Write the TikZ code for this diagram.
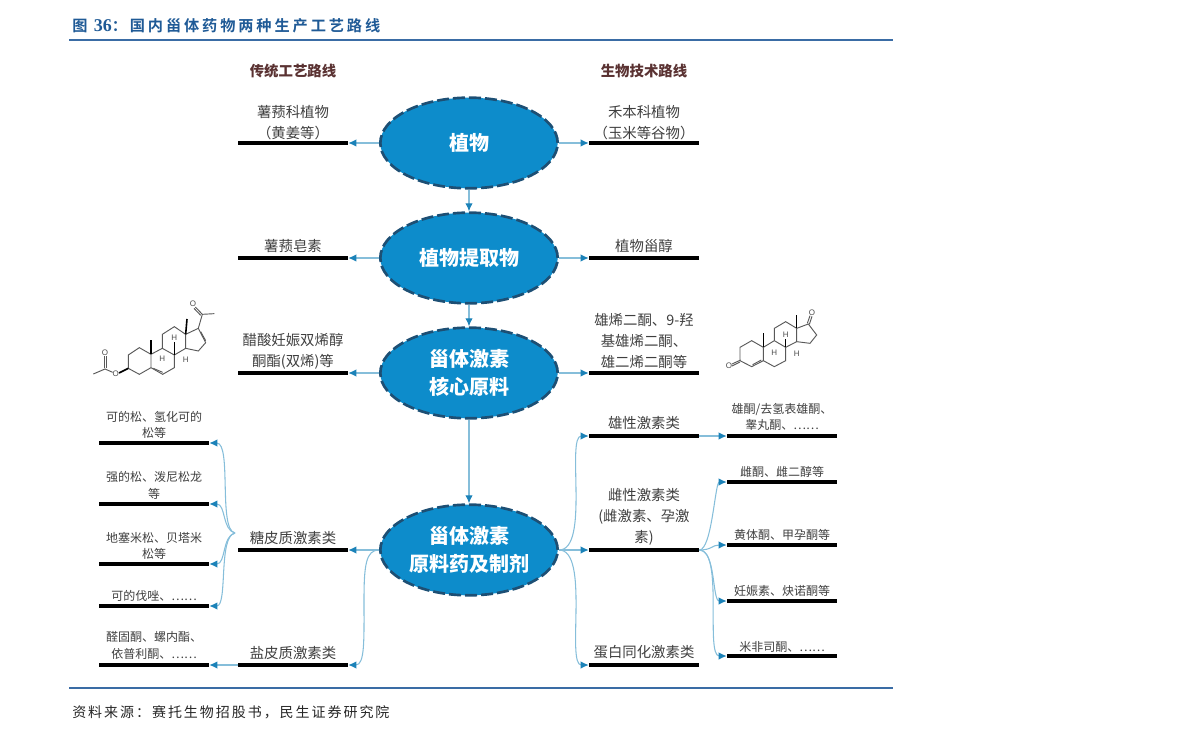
\documentclass[tikz,border=0pt]{standalone}
\usepackage{fontspec}
\setmainfont{Noto Sans CJK SC}
\newfontfamily\titlefont[LetterSpace=19,BoldFont={Noto Sans CJK SC Bold}]{Noto Sans CJK SC}
\newfontfamily\sourcefont[LetterSpace=14]{Noto Sans CJK SC}
\newfontfamily\numfont{Liberation Serif}
\newfontfamily\chemfont{Liberation Sans}
\usetikzlibrary{shapes.geometric,arrows.meta}
\definecolor{headblue}{HTML}{1F5A96}
\definecolor{ruleblue}{HTML}{3A6CA5}
\definecolor{lineblue}{HTML}{86BEDA}
\definecolor{tipblue}{HTML}{1B82B8}
\definecolor{ovalblue}{HTML}{0D8CCB}
\definecolor{ovaledge}{HTML}{1D4F74}
\definecolor{bodygray}{HTML}{3F3F3F}
\definecolor{routebrown}{HTML}{5A3232}
\tikzset{
  oval/.style={draw=ovaledge, fill=ovalblue, ellipse, line width=2pt, dash pattern=on 9pt off 3pt, minimum width=133pt, minimum height=68pt, inner sep=0pt, text=white, font=\fontsize{15}{21}\selectfont\bfseries, align=center},
  barmain/.style={fill=black, rectangle, minimum width=82.5pt, minimum height=2.6pt, inner sep=0pt},
  txtmain/.style={text=bodygray, font=\fontsize{10.8}{15.6}\selectfont, align=center, inner sep=0pt},
  txtsub/.style={text=bodygray, font=\fontsize{9}{12.3}\selectfont, align=center, inner sep=0pt},
  route/.style={text=routebrown, font=\fontsize{10.8}{14}\selectfont\bfseries, inner sep=0pt},
  conn/.style={->, draw=lineblue, line width=.8pt},
  bond/.style={draw=black!65, line width=.7pt},
  wedge/.style={draw=black, line width=1.2pt},
  atom/.style={text=black!70, font=\chemfont\fontsize{6}{6}\selectfont, inner sep=0pt}
}
\begin{document}
\begin{tikzpicture}[x=.75pt, y=-.75pt, >={Latex[length=6pt,width=5.5pt,color=tipblue]}]
\useasboundingbox (0,0) rectangle (1191,741);

% header and footer
\node[anchor=west, inner sep=0pt, text=headblue, font=\fontsize{11.4}{14}\selectfont\bfseries] (title) at (72,26) {\titlefont\bfseries 图 {\numfont\fontsize{13.5}{14}\selectfont 36}：国内甾体药物两种生产工艺路线};
\coordinate (rule1a) at (69,40);
\coordinate (rule1b) at (893,40);
\draw[ruleblue, line width=1.5pt] (rule1a) -- (rule1b);
\coordinate (rule2a) at (69,688);
\coordinate (rule2b) at (893,688);
\draw[ruleblue, line width=1.5pt] (rule2a) -- (rule2b);
\node[anchor=west, inner sep=0pt, text=black!85, font=\fontsize{10.5}{14}\selectfont] (source) at (72,712) {\sourcefont 资料来源：赛托生物招股书，民生证券研究院};

\node[route] (lefthead) at (293,71) {传统工艺路线};
\node[route] (righthead) at (644,71) {生物技术路线};

% central ovals
\node[oval] (plant) at (469,143) {植物};
\node[oval] (extract) at (469,258) {植物提取物};
\node[oval] (core) at (469,373) {甾体激素\\核心原料};
\node[oval] (drug) at (469,550) {甾体激素\\原料药及制剂};

% bars
\node[barmain] (b1) at (293,143) {};
\node[barmain] (b2) at (293,258) {};
\node[barmain] (b3) at (293,373) {};
\node[barmain] (gluco) at (293,550) {};
\node[barmain] (miner) at (293,665) {};
\node[barmain] (c1) at (644,143) {};
\node[barmain] (c2) at (644,258) {};
\node[barmain] (c3) at (644,373) {};
\node[barmain] (andro) at (644,436) {};
\node[barmain] (estro) at (644,550) {};
\node[barmain] (anabo) at (644,665) {};
\node[barmain] (g1) at (154,443) {};
\node[barmain] (g2) at (154,504) {};
\node[barmain] (g3) at (154,564) {};
\node[barmain] (g4) at (154,606) {};
\node[barmain] (m1) at (154,665) {};
\node[barmain] (a1) at (782,436) {};
\node[barmain] (e1) at (782,482) {};
\node[barmain] (e2) at (782,545) {};
\node[barmain] (e3) at (782,601) {};
\node[barmain] (e4) at (782,656) {};

% labels
\node[txtmain] (t1) at (293,122.5) {薯蓣科植物\\（黄姜等）};
\node[txtmain] (t2) at (293,246) {薯蓣皂素};
\node[txtmain] (t3) at (293,351) {醋酸妊娠双烯醇\\酮酯(双烯)等};
\node[txtmain] (tgluco) at (293,538) {糖皮质激素类};
\node[txtmain] (tminer) at (293,653) {盐皮质激素类};
\node[txtmain] (u1) at (644,122.5) {禾本科植物\\（玉米等谷物）};
\node[txtmain] (u2) at (644,246) {植物甾醇};
\node[txtmain] (u3) at (644,341) {雄烯二酮、9-羟\\基雄烯二酮、\\雄二烯二酮等};
\node[txtmain] (tandro) at (644,423) {雄性激素类};
\node[txtmain] (testro) at (644,517) {雌性激素类\\(雌激素、孕激\\素)};
\node[txtmain] (tanabo) at (644,652) {蛋白同化激素类};
\node[txtsub] (tg1) at (154,425) {可的松、氢化可的\\松等};
\node[txtsub] (tg2) at (154,485.5) {强的松、泼尼松龙\\等};
\node[txtsub] (tg3) at (154,546) {地塞米松、贝塔米\\松等};
\node[txtsub] (tg4) at (154,596) {可的伐唑、……};
\node[txtsub] (tm1) at (154,645.5) {醛固酮、螺内酯、\\依普利酮、……};
\node[txtsub] (ta1) at (782,417) {雄酮/去氢表雄酮、\\睾丸酮、……};
\node[txtsub] (te1) at (782,472) {雌酮、雌二醇等};
\node[txtsub] (te2) at (782,535) {黄体酮、甲孕酮等};
\node[txtsub] (te3) at (782,591) {妊娠素、炔诺酮等};
\node[txtsub] (te4) at (782,647) {米非司酮、……};

% connectors
\draw[conn] (plant) -- (extract);
\draw[conn] (extract) -- (core);
\draw[conn] (core) -- (drug);
\draw[conn] (plant) -- (b1);
\draw[conn] (plant) -- (c1);
\draw[conn] (extract) -- (b2);
\draw[conn] (extract) -- (c2);
\draw[conn] (core) -- (b3);
\draw[conn] (core) -- (c3);
\draw[conn] (drug) -- (gluco);
\draw[conn] (drug) -- (estro);
\draw[conn] (drug.west) .. controls (366,550) and (364,565) .. (364,600) .. controls (364,640) and (365,665) .. (miner.east);
\draw[conn] (drug.east) .. controls (590,550) and (566,436) .. (andro.west);
\draw[conn] (drug.east) .. controls (590,550) and (566,665) .. (anabo.west);
\draw[conn] (miner) -- (m1);
\draw[conn] (andro) -- (a1);
\coordinate (glucofork) at (235,533);
\draw[conn] (glucofork) .. controls (218,530) and (232,443) .. (g1.east);
\draw[conn] (glucofork) .. controls (222,530) and (226,504) .. (g2.east);
\draw[conn] (glucofork) .. controls (222,536) and (226,564) .. (g3.east);
\draw[conn] (glucofork) .. controls (218,536) and (228,606) .. (g4.east);
\draw[conn] (estro.east) .. controls (712,550) and (715,482) .. (e1.west);
\draw[conn] (estro.east) .. controls (712,550) and (712,545) .. (e2.west);
\draw[conn] (estro.east) .. controls (716,550) and (712,601) .. (e3.west);
\draw[conn] (estro.east) .. controls (724,550) and (705,656) .. (e4.west);

% left molecule
\begin{scope}[shift={(85,295)}, x=.25pt, y=-.25pt]
\draw[bond] (130,180) -- (163,158) -- (198,178) -- (198,218) -- (163,238) -- (130,220) -- cycle;
\draw[bond] (198,178) -- (232,160) -- (268,180) -- (268,218) -- (233,238) -- (198,218);
\draw[bond] (232,160) -- (232,118) -- (268,95) -- (302,118) -- (302,160) -- (268,180);
\draw[bond] (302,118) -- (340,100) -- (362,143) -- (340,168) -- (302,160);
\draw[bond] (347,110) -- (362,137);
\draw[bond] (205,220) -- (233,232);
\draw[bond] (340,100) -- (352,58) -- (388,56);
\draw[bond] (352,58) -- (331,36);
\draw[bond] (347,61) -- (327,40);
\node[atom] (olefta) at (324,27) {O};
\draw[wedge] (198,178) -- (198,135);
\draw[wedge] (302,118) -- (306,72);
\draw[wedge] (268,180) -- (268,142);
\draw[wedge] (130,220) -- (102,234);
\node[atom] (hla) at (268,129) {H};
\node[atom] (hlb) at (232,192) {H};
\node[atom] (hlc) at (302,195) {H};
\node[atom] (oleftb) at (92,235) {O};
\draw[bond] (83,232) -- (60,222) -- (25,237);
\draw[bond] (57,220) -- (57,184);
\draw[bond] (63,220) -- (63,184);
\node[atom] (oleftc) at (60,173) {O};
\end{scope}

% right molecule
\begin{scope}[shift={(720,300)}, x=.25pt, y=-.25pt]
\draw[bond] (60,142) -- (95,122) -- (130,142) -- (130,182) -- (95,200) -- (60,182) -- cycle;
\draw[bond] (130,142) -- (163,122) -- (197,142) -- (197,182) -- (163,200) -- (130,182);
\draw[bond] (163,122) -- (163,85) -- (197,65) -- (230,85) -- (230,125) -- (197,142);
\draw[bond] (230,85) -- (265,72) -- (290,105) -- (270,130) -- (230,125);
\draw[bond] (98,194) -- (124,180);
\draw[bond] (62,180) -- (36,192);
\draw[bond] (60,186) -- (36,198);
\draw[bond] (262,70) -- (270,47);
\draw[bond] (268,73) -- (276,49);
\node[atom] (oright) at (276,38) {O};
\node[atom] (orightb) at (27,197) {O};
\draw[wedge] (130,142) -- (130,100);
\draw[wedge] (230,85) -- (230,45);
\draw[wedge] (197,142) -- (197,116);
\node[atom] (hra) at (197,103) {H};
\node[atom] (hrb) at (163,158) {H};
\node[atom] (hrc) at (230,160) {H};
\end{scope}
\end{tikzpicture}
\end{document}
